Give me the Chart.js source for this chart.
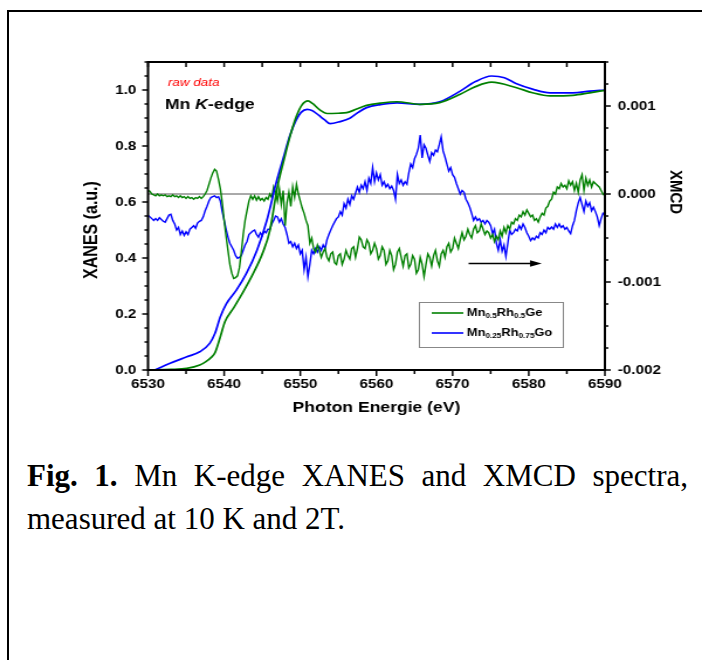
<!DOCTYPE html>
<html>
<head>
<meta charset="utf-8">
<script src="https://cdn.jsdelivr.net/npm/chart.js@4.4.0/dist/chart.umd.min.js"></script>
<style>
  html, body { margin: 0; padding: 0; background: #fff; }
  body { width: 702px; height: 660px; position: relative; overflow: hidden; }
  #frameBox { position: absolute; left: 7px; top: 10px; width: 720px; height: 680px;
              border-left: 2px solid #000; border-top: 2px solid #000; }
  #chart { position: absolute; left: 0; top: 0; width: 702px; height: 440px; }
  #caption { position: absolute; left: 27px; top: 454px; width: 661px;
             font-family: "Liberation Serif", "Times New Roman", serif; font-size: 31px;
             line-height: 43px; color: #000; }
  #caption .l1 { text-align: justify; text-align-last: justify; white-space: nowrap; }
</style>
</head>
<body>
<div id="frameBox"></div>
<canvas id="chart" width="600" height="440"></canvas>
<div id="caption">
  <div class="l1"><b>Fig. 1.</b> Mn K-edge XANES and XMCD spectra,</div>
  <div>measured at 10 K and 2T.</div>
</div>
<script>
/* ------------------------------
   DATA
------------------------------ */
const seriesLabels = ["Mn_{0.5}Rh_{0.5}Ge", "Mn_{0.25}Rh_{0.75}Go"];

// XANES, Mn0.5Rh0.5Ge (green)
const xanesGreenE = [6530, 6533, 6535.1, 6536.8, 6537.6, 6538.3, 6538.8, 6539.5, 6540.1, 6541.2,
  6542.5, 6543.8, 6545.1, 6546, 6547, 6547.8, 6548.6, 6549.4, 6550.2, 6551, 6551.6, 6552.6,
  6553.5, 6555, 6556.1, 6557.4, 6558.7, 6560.5, 6562.7, 6565.7, 6568.3, 6571, 6573, 6575.1,
  6578.4, 6580.5, 6582.8, 6585.8, 6588, 6590];
const xanesGreenV = [0, 0.002, 0.006, 0.018, 0.030, 0.045, 0.062, 0.119, 0.172, 0.220,
  0.279, 0.344, 0.421, 0.498, 0.655, 0.745, 0.830, 0.900, 0.946, 0.961, 0.952, 0.928,
  0.916, 0.917, 0.919, 0.932, 0.945, 0.953, 0.958, 0.949, 0.955, 0.985, 1.012, 1.028,
  1.008, 0.990, 0.979, 0.981, 0.990, 0.999];

// XANES, Mn0.25Rh0.75Go (blue)
const xanesBlueE = [6530.9, 6532.9, 6535.1, 6536.8, 6538.1, 6538.8, 6539.5, 6540.3, 6541.6, 6542.9,
  6544.3, 6545.6, 6546.9, 6547.8, 6548.6, 6549.4, 6550.1, 6550.9, 6551.6, 6552.4, 6553.2, 6553.9,
  6555.2, 6556.5, 6557.6, 6558.7, 6560.5, 6562.7, 6565.7, 6568.3, 6571, 6573, 6575.1, 6576.8,
  6578.4, 6580.5, 6582.8, 6585.8, 6588, 6590];
const xanesBlueV = [0, 0.024, 0.047, 0.065, 0.095, 0.131, 0.190, 0.237, 0.285, 0.344,
  0.427, 0.534, 0.676, 0.760, 0.835, 0.890, 0.920, 0.931, 0.926, 0.910, 0.893, 0.880,
  0.887, 0.899, 0.920, 0.937, 0.948, 0.954, 0.949, 0.958, 0.996, 1.030, 1.050, 1.044,
  1.022, 1.003, 0.990, 0.990, 0.996, 1.000];

// XMCD, in units of 1e-3, one value every 0.25 eV from 6530 eV
const xmcdUnit = 1e-3;
const xmcdStart = 6530;
const xmcdStep = 0.25;
const xmcdGreen = [
  0.04, 0.03, 0.00, -0.01,   -0.02, 0.00, -0.02, -0.01,   -0.02, -0.01, -0.03, -0.02,
  -0.03, -0.01, -0.03, -0.02, -0.04, -0.02, -0.04, -0.03,   -0.05, -0.03, -0.05, -0.04,
  -0.06, -0.04, -0.05, -0.03, -0.05, -0.03, 0.00, 0.04,     0.11, 0.18, 0.24, 0.28,
  0.26, 0.17, 0.06, -0.10,   -0.30, -0.48, -0.64, -0.80,    -0.90, -0.96, -0.95, -0.93,
  -0.84, -0.66, -0.46, -0.30, -0.19, -0.08, -0.02, -0.06,   -0.02, -0.07, -0.03, -0.07,
  -0.05, -0.08, -0.04, -0.06, 0.00, -0.04, 0.08, 0.02,      -0.08, 0.06, -0.12, 0.04,
  -0.36, -0.10, 0.02, -0.14,  0.08, -0.04, 0.11, 0.00,      -0.08, -0.16, -0.22, -0.30,
  -0.36, -0.56, -0.50, -0.62, -0.66, -0.58, -0.64, -0.72,   -0.66, -0.62, -0.72, -0.76,
  -0.68, -0.66, -0.78, -0.80, -0.70, -0.68, -0.80, -0.74,   -0.64, -0.70, -0.74, -0.62,
  -0.60, -0.72, -0.62, -0.49, -0.52, -0.60, -0.62, -0.52,   -0.56, -0.68, -0.64, -0.56,
  -0.62, -0.74, -0.70, -0.60, -0.64, -0.80, -0.76, -0.64,   -0.70, -0.86, -0.80, -0.66,
  -0.62, -0.72, -0.82, -0.70, -0.68, -0.84, -0.80, -0.70,   -0.74, -0.90, -0.86, -0.72,
  -0.80, -0.94, -0.80, -0.68, -0.72, -0.82, -0.70, -0.64,   -0.76, -0.82, -0.68, -0.64,
  -0.72, -0.60, -0.56, -0.66, -0.62, -0.50, -0.56, -0.62,   -0.52, -0.44, -0.52, -0.48,
  -0.40, -0.46, -0.50, -0.40, -0.36, -0.44, -0.42, -0.34,   -0.40, -0.46, -0.42, -0.44,
  -0.50, -0.46, -0.54, -0.48, -0.52, -0.42, -0.48, -0.38,   -0.44, -0.36, -0.40, -0.32,
  -0.34, -0.28, -0.30, -0.24, -0.26, -0.20, -0.24, -0.18,   -0.22, -0.26, -0.24, -0.30,
  -0.28, -0.32, -0.26, -0.22, -0.24, -0.16, -0.14, -0.08,   -0.06, 0.02, 0.00, 0.08,
  0.06, 0.12, 0.08, 0.10,     0.06, 0.15, 0.10, 0.14,       0.04, 0.12, 0.02, 0.16,
  0.22, 0.04, 0.18, 0.10,     0.16, 0.08, 0.14, 0.12,       0.10, 0.08, 0.04, 0.00,
  -0.02
];
const xmcdBlue = [
  -0.24, -0.26, -0.28, -0.30, -0.28, -0.30, -0.27, -0.29,   -0.31, -0.32, -0.28, -0.24,
  -0.23, -0.30, -0.34, -0.41, -0.38, -0.46, -0.42, -0.47,   -0.43, -0.46, -0.40, -0.38,
  -0.36, -0.39, -0.33, -0.31, -0.30, -0.26, -0.19, -0.14,   -0.08, -0.04, -0.03, -0.02,
  -0.04, -0.03, -0.08, -0.20, -0.30, -0.40, -0.49, -0.56,   -0.60, -0.64, -0.70, -0.73,
  -0.72, -0.70, -0.64, -0.58, -0.54, -0.46, -0.44, -0.42,   -0.41, -0.46, -0.49, -0.44,
  -0.47, -0.42, -0.44, -0.40, -0.40, -0.34, -0.30, -0.25,   -0.26, -0.32, -0.28, -0.34,
  -0.38, -0.46, -0.56, -0.54, -0.60, -0.56, -0.62, -0.58,   -0.68, -0.64, -0.86, -0.72,
  -0.94, -0.80, -0.64, -0.68, -0.62, -0.66, -0.60, -0.64,   -0.58, -0.62, -0.52, -0.46,
  -0.41, -0.36, -0.32, -0.28, -0.26, -0.20, -0.24, -0.11,   -0.16, -0.06, -0.12, -0.02,
  -0.06, 0.01, 0.08, 0.02,    0.10, 0.06, 0.14, 0.04,       0.18, 0.12, 0.30, 0.14,
  0.24, 0.16, 0.22, 0.10,     0.14, 0.08, 0.11, 0.06,       0.09, 0.04, -0.06, 0.22,
  0.12, 0.16, 0.10, 0.14,     0.11, 0.24, 0.34, 0.30,       0.40, 0.45, 0.52, 0.67,
  0.41, 0.56, 0.52, 0.44,     0.37, 0.47, 0.44, 0.50,       0.48, 0.56, 0.65, 0.49,
  0.42, 0.34, 0.26, 0.30,     0.22, 0.19, 0.12, 0.06,       0.00, 0.04, 0.02, -0.06,
  -0.10, -0.15, -0.22, -0.30, -0.26, -0.30, -0.28, -0.32,   -0.30, -0.34, -0.30, -0.32,
  -0.36, -0.45, -0.40, -0.56, -0.64, -0.52, -0.65, -0.58,   -0.71, -0.56, -0.41, -0.46,
  -0.44, -0.40, -0.42, -0.36, -0.40, -0.34, -0.38, -0.44,   -0.48, -0.53, -0.50, -0.52,
  -0.48, -0.50, -0.44, -0.46, -0.41, -0.44, -0.38, -0.40,   -0.375, -0.40, -0.34, -0.38,
  -0.34, -0.38, -0.36, -0.40, -0.38, -0.42, -0.45, -0.36,   -0.30, -0.19, -0.10, -0.04,
  -0.12, -0.20, -0.08, -0.14, -0.10, -0.19, -0.15, -0.20,   -0.26, -0.36, -0.28, -0.22,
  -0.24
];

// field-direction arrow (energy from/to, XMCD level)
const arrowE = [6572.1, 6581.7];
const arrowV = -0.00079;

const xRange = [6530, 6590];
const xanesRange = [0, 1.1];
const xmcdRange = [-0.002, 0.0015];

/* ------------------------------
   LOOKS
------------------------------ */
const GREEN = "#008000";
const BLUE = "#0000ff";
const SANS = '"Liberation Sans", Arial, sans-serif';
const tickFont = { family: SANS, size: 13, weight: "bold" };
const titleFont = { family: SANS, size: 15, weight: "bold" };

const pts = (xs, ys) => xs.map((x, i) => ({ x: x, y: ys[i] }));
const xmcdPts = vals => vals.map((v, i) => ({ x: xmcdStart + i * xmcdStep, y: v * xmcdUnit }));

function line(ctx, x1, y1, x2, y2) {
  ctx.beginPath(); ctx.moveTo(x1, y1); ctx.lineTo(x2, y2); ctx.stroke();
}

function drawRich(ctx, label, x, y, size) {
  const parts = label.split(/_\{([^}]*)\}/);
  parts.forEach((p, i) => {
    const sub = i % 2 === 1;
    ctx.font = `bold ${sub ? 7 : size}px ${SANS}`;
    ctx.fillText(p, x, sub ? y + 3 : y);
    x += ctx.measureText(p).width;
  });
}

function rotatedText(ctx, text, x, y, angle, size) {
  ctx.save();
  ctx.translate(x, y);
  ctx.rotate(angle);
  ctx.font = `bold ${size}px ${SANS}`;
  ctx.textAlign = "center";
  ctx.textBaseline = "middle";
  ctx.fillText(text, 0, 0);
  ctx.restore();
}

/* ------------------------------
   FRAME, TICKS, NOTES
------------------------------ */
const decor = {
  id: "decor",
  beforeDatasetsDraw(chart) {
    const { ctx, chartArea: ca, scales } = chart;
    const y0 = scales.y2.getPixelForValue(0);
    ctx.save();
    ctx.strokeStyle = "#555";
    ctx.lineWidth = 1;
    line(ctx, ca.left, y0, ca.right, y0);
    ctx.restore();
  },
  afterDatasetsDraw(chart) {
    const { ctx, chartArea: ca, scales } = chart;
    const sx = scales.x, sl = scales.y, sr = scales.y2;
    ctx.save();
    ctx.strokeStyle = "#000";
    ctx.lineWidth = 1.5;

    // x ticks: bottom outward, top inward
    for (let e = xRange[0]; e <= xRange[1] + 1e-6; e += 5) {
      const px = sx.getPixelForValue(e);
      const major = Math.round(e) % 10 === 0;
      line(ctx, px, ca.bottom, px, ca.bottom + (major ? 6 : 4));
      line(ctx, px, ca.top, px, ca.top + 5);
    }
    // left ticks
    for (let i = 0; i <= 22; i++) {
      const py = sl.getPixelForValue(i * 0.05);
      line(ctx, ca.left, py, ca.left - (i % 4 === 0 ? 5 : 3), py);
    }
    // right ticks
    for (let i = 0; i <= 14; i++) {
      const py = sr.getPixelForValue(xmcdRange[0] + i * 0.00025);
      line(ctx, ca.right, py, ca.right + (i % 4 === 0 ? 5 : 3), py);
    }
    // frame
    ctx.lineWidth = 2;
    ctx.strokeRect(ca.left, ca.top, ca.right - ca.left, ca.bottom - ca.top);

    // axis titles (placed as in the figure, not centred on the plot)
    ctx.fillStyle = "#000";
    rotatedText(ctx, "XANES (a.u.)", 78.6, sl.getPixelForValue(0.5), -Math.PI / 2, 16);
    rotatedText(ctx, "XMCD", 577.5, sr.getPixelForValue(0) - 2, Math.PI / 2, 15);

    // arrow
    const ax1 = sx.getPixelForValue(arrowE[0]);
    const ax2 = sx.getPixelForValue(arrowE[1]);
    const ay = sr.getPixelForValue(arrowV);
    ctx.lineWidth = 1.3;
    line(ctx, ax1, ay, ax2 - 8, ay);
    ctx.beginPath();
    ctx.moveTo(ax2, ay); ctx.lineTo(ax2 - 10, ay - 3.2); ctx.lineTo(ax2 - 10, ay + 3.2);
    ctx.closePath(); ctx.fill();

    // notes
    ctx.textBaseline = "middle";
    ctx.fillStyle = "#ff0000";
    ctx.font = `italic 11.5px ${SANS}`;
    ctx.fillText("raw data", 143.5, 83);
    ctx.fillStyle = "#000";
    let tx = 141;
    ctx.font = `bold 15px ${SANS}`;
    ctx.fillText("Mn ", tx, 105); tx += ctx.measureText("Mn ").width;
    ctx.font = `italic bold 15px ${SANS}`;
    ctx.fillText("K", tx, 105); tx += ctx.measureText("K").width;
    ctx.font = `bold 15px ${SANS}`;
    ctx.fillText("-edge", tx, 105);

    // legend
    const lx = 358, ly = 302, lw = 123, lh = 45;
    ctx.fillStyle = "#fff";
    ctx.fillRect(lx, ly, lw, lh);
    ctx.strokeStyle = "#888";
    ctx.lineWidth = 1;
    ctx.strokeRect(lx + 0.5, ly + 0.5, lw, lh);
    const colors = [GREEN, BLUE];
    seriesLabels.forEach((lab, i) => {
      const yy = ly + 11 + i * 20;
      ctx.strokeStyle = colors[i];
      ctx.lineWidth = 1.6;
      line(ctx, lx + 11, yy, lx + 38, yy);
      ctx.fillStyle = "#000";
      ctx.textBaseline = "middle";
      drawRich(ctx, lab, lx + 41, yy, 11);
    });
    ctx.restore();
  }
};

/* ------------------------------
   CHART
------------------------------ */
const canvas = document.getElementById("chart");
const noGrid = { display: false, drawTicks: false };
const chart = new Chart(canvas, {
  type: "line",
  data: {
    datasets: [
      { label: "XANES " + seriesLabels[0], data: pts(xanesGreenE, xanesGreenV), yAxisID: "y",
        borderColor: GREEN, borderWidth: 1.7, pointRadius: 0, cubicInterpolationMode: "monotone" },
      { label: "XANES " + seriesLabels[1], data: pts(xanesBlueE, xanesBlueV), yAxisID: "y",
        borderColor: BLUE, borderWidth: 1.7, pointRadius: 0, cubicInterpolationMode: "monotone" },
      { label: "XMCD " + seriesLabels[0], data: xmcdPts(xmcdGreen), yAxisID: "y2",
        borderColor: GREEN, borderWidth: 1.4, pointRadius: 0, tension: 0 },
      { label: "XMCD " + seriesLabels[1], data: xmcdPts(xmcdBlue), yAxisID: "y2",
        borderColor: BLUE, borderWidth: 1.4, pointRadius: 0, tension: 0 }
    ]
  },
  options: {
    responsive: false,
    devicePixelRatio: 1,
    animation: false,
    events: [],
    parsing: false,
    layout: { padding: { left: 66, right: 10, top: 62, bottom: 19 } },
    plugins: { legend: { display: false }, tooltip: { enabled: false } },
    scales: {
      x: {
        type: "linear", position: "bottom", min: xRange[0], max: xRange[1],
        grid: noGrid, border: { display: false },
        ticks: { stepSize: 10, padding: 7, color: "#000", font: tickFont, maxRotation: 0,
                 autoSkip: false, callback: v => String(v) },
        title: { display: true, text: "Photon Energie (eV)", color: "#000", font: titleFont },
        afterFit(s) { s.height = 51; }
      },
      y: {
        type: "linear", position: "left", min: xanesRange[0], max: xanesRange[1],
        grid: noGrid, border: { display: false },
        ticks: { stepSize: 0.2, includeBounds: false, padding: 10, color: "#000", font: tickFont,
                 callback: v => v.toFixed(1) },
        afterFit(s) { s.width = 60.5; }
      },
      y2: {
        type: "linear", position: "right", min: xmcdRange[0], max: xmcdRange[1],
        grid: noGrid, border: { display: false },
        ticks: { stepSize: 0.001, includeBounds: false, padding: 11, color: "#000", font: tickFont,
                 callback: v => (Math.abs(v) < 1e-9 ? 0 : v).toFixed(3) },
        afterFit(s) { s.width = 73; }
      }
    }
  },
  plugins: [decor]
});
canvas.style.width = "702px";
canvas.style.height = "440px";
</script>
</body>
</html>
